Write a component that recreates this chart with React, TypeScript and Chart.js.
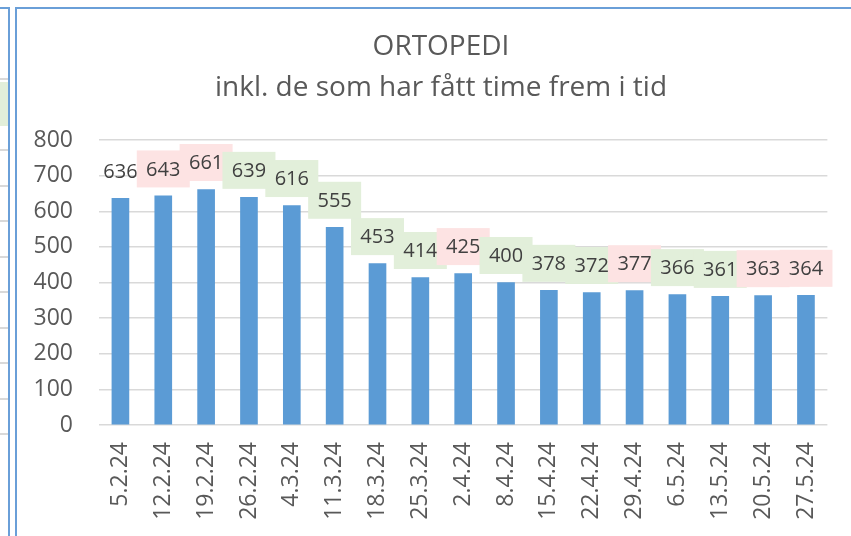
import React, { useEffect, useRef } from "react";
import { Chart, registerables } from "chart.js";

Chart.register(...registerables);

const categories = [
  "5.2.24", "12.2.24", "19.2.24", "26.2.24", "4.3.24", "11.3.24", "18.3.24", "25.3.24", "2.4.24",
  "8.4.24", "15.4.24", "22.4.24", "29.4.24", "6.5.24", "13.5.24", "20.5.24", "27.5.24",
];
const values = [636, 643, 661, 639, 616, 555, 453, 414, 425, 400, 378, 372, 377, 366, 361, 363, 364];
const titleLines = ["ORTOPEDI", "inkl. de som har fått time frem i tid"];
const yTicks = [0, 100, 200, 300, 400, 500, 600, 700, 800];

const FONT = "'Open Sans'";
const TEXT = "#595959";
const UP_FILL = "#fde3e3";
const DOWN_FILL = "#e2efda";
const FRAME = "#6a9fd8";

const labelPlugin = {
  id: "boxedLabels",
  afterDatasetsDraw(chart: any) {
    const ctx = chart.ctx;
    const meta = chart.getDatasetMeta(0);
    ctx.save();
    ctx.font = `20px ${FONT}`;
    ctx.textAlign = "center";
    ctx.textBaseline = "middle";
    meta.data.forEach((bar: any, i: number) => {
      const cy = bar.y - 27;
      let fill: string | null = null;
      if (i > 0) fill = values[i] > values[i - 1] ? UP_FILL : DOWN_FILL;
      if (fill) {
        ctx.fillStyle = fill;
        ctx.fillRect(bar.x - 26.5, cy - 18.5, 53, 37);
      }
      ctx.fillStyle = "#404040";
      ctx.fillText(String(values[i]), bar.x, cy + 1);
    });
    ctx.restore();
  },
};

const titlePlugin = {
  id: "twoLineTitle",
  afterDraw(chart: any) {
    const ctx = chart.ctx;
    ctx.save();
    ctx.font = `28px ${FONT}`;
    ctx.fillStyle = TEXT;
    ctx.textAlign = "center";
    ctx.textBaseline = "middle";
    ctx.fillText(titleLines[0], 441, 47);
    ctx.fillText(titleLines[1], 441, 88);
    ctx.restore();
  },
};

export default function App() {
  const ref = useRef<HTMLCanvasElement | null>(null);

  useEffect(() => {
    if (!ref.current) return;
    const chart = new Chart(ref.current, {
      type: "bar",
      data: {
        labels: categories,
        datasets: [
          {
            data: values,
            backgroundColor: "#5b9bd5",
            borderWidth: 0,
            barThickness: 17,
          },
        ],
      },
      options: {
        animation: false,
        responsive: false,
        devicePixelRatio: 1,
        layout: { padding: { left: 18, right: 15, top: 140, bottom: 0 } },
        plugins: { legend: { display: false }, title: { display: false }, tooltip: { enabled: false } },
        scales: {
          x: {
            grid: { display: false, drawTicks: false },
            border: { display: false },
            ticks: {
              autoSkip: false,
              minRotation: 90,
              maxRotation: 90,
              padding: 17,
              color: TEXT,
              font: { family: FONT, size: 23 },
            },
            afterFit(scale: any) {
              scale.height = 111;
            },
          },
          y: {
            min: 0,
            max: 800,
            afterBuildTicks(scale: any) {
              scale.ticks = yTicks.map((v) => ({ value: v }));
            },
            grid: { color: "#d9d9d9", lineWidth: 1.5, drawTicks: false },
            border: { display: false },
            ticks: {
              padding: 26,
              color: TEXT,
              font: { family: FONT, size: 23 },
            },
            afterFit(scale: any) {
              scale.width = 81;
            },
          },
        },
      },
      plugins: [labelPlugin, titlePlugin],
    });
    return () => chart.destroy();
  }, []);

  const hLines = [78, 114, 149, 185, 220, 256, 291, 327, 362, 398, 433];

  return (
    <div style={{ position: "fixed", left: 0, top: 0, width: 851, height: 536, overflow: "hidden", background: "#fff" }}>
      <canvas ref={ref} width={851} height={536} style={{ position: "absolute", left: 0, top: 0, width: 851, height: 536 }} />
      {hLines.map((y) => (
        <div key={y} style={{ position: "absolute", left: 0, top: y, width: 8, height: 2, background: "#d9d9d9" }} />
      ))}
      <div style={{ position: "absolute", left: 0, top: 82, width: 8, height: 44, background: DOWN_FILL }} />
      <div style={{ position: "absolute", left: 0, top: 7, width: 10, height: 2, background: FRAME }} />
      <div style={{ position: "absolute", left: 8, top: 7, width: 2, height: 540, background: FRAME }} />
      <div style={{ position: "absolute", left: 15, top: 7, width: 840, height: 2, background: FRAME }} />
      <div style={{ position: "absolute", left: 15, top: 7, width: 2, height: 540, background: FRAME }} />
    </div>
  );
}
